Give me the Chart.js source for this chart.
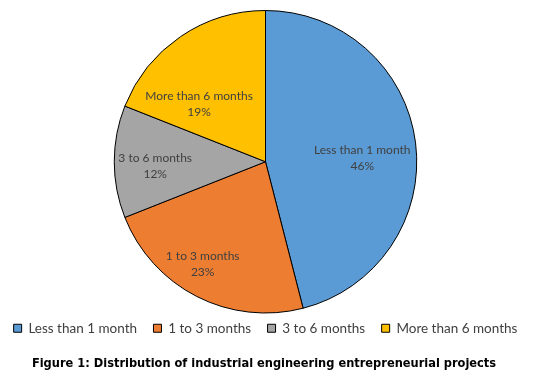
<!DOCTYPE html>
<html><head><meta charset="utf-8">
<script src="https://cdn.jsdelivr.net/npm/chart.js@4/dist/chart.umd.min.js"></script>
<style>
html,body{margin:0;padding:0;background:#fff;}
#wrap{position:relative;width:539px;height:378px;overflow:hidden;}
#c{position:absolute;left:0;top:0;}
#cap{position:absolute;left:0;width:528px;top:355px;line-height:16px;text-align:center;white-space:nowrap;font:bold 12.7px "DejaVu Sans Condensed","DejaVu Sans",sans-serif;color:#000;}
</style></head>
<body><div id="wrap"><canvas id="c" width="539" height="378"></canvas><div id="cap">Figure 1: Distribution of industrial engineering entrepreneurial projects</div></div>
<script>
const categories = ["Less than 1 month", "1 to 3 months", "3 to 6 months", "More than 6 months"];
const shares = [46, 23, 12, 19];
const sliceColors = ["#5B9BD5", "#ED7D31", "#A5A5A5", "#FFC000"];

const labelPlugin = {
  id: 'sliceLabels',
  afterDatasetsDraw(chart, args, opts) {
    const ctx = chart.ctx;
    const meta = chart.getDatasetMeta(0);
    const total = shares.reduce((a, b) => a + b, 0);
    ctx.save();
    ctx.font = opts.font;
    ctx.fillStyle = opts.color;
    ctx.textAlign = 'center';
    ctx.textBaseline = 'middle';
    meta.data.forEach((arc, i) => {
      const mid = (arc.startAngle + arc.endAngle) / 2 + opts.angleShift[i] * Math.PI / 180;
      const rr = arc.outerRadius * opts.radial[i];
      const x = arc.x + Math.cos(mid) * rr;
      const y = arc.y + Math.sin(mid) * rr;
      ctx.fillText(categories[i], x, y - opts.lineGap / 2);
      ctx.fillText(Math.round(shares[i] / total * 100) + '%', x, y + opts.lineGap / 2);
    });
    ctx.restore();
  }
};

new Chart(document.getElementById('c'), {
  type: 'pie',
  data: {
    labels: categories,
    datasets: [{
      data: shares,
      backgroundColor: sliceColors,
      borderColor: '#000000',
      borderWidth: 1
    }]
  },
  options: {
    responsive: false,
    devicePixelRatio: 1,
    animation: false,
    layout: { padding: { top: 10, bottom: 33, left: 0, right: 8 } },
    plugins: {
      tooltip: { enabled: false },
      legend: {
        position: 'bottom',
        align: 'center',
        labels: {
          boxWidth: 8, boxHeight: 8, padding: 8,
          color: '#404040',
          font: { family: 'Lato', size: 13.5 },
          generateLabels(chart) {
            const ds = chart.data.datasets[0];
            const n = chart.data.labels.length;
            return chart.data.labels.map((lab, i) => ({
              text: i < n - 1 ? lab + '\u2002\u2009' : lab,
              fillStyle: ds.backgroundColor[i],
              strokeStyle: '#000000',
              lineWidth: 1,
              fontColor: '#404040',
              hidden: false,
              index: i
            }));
          }
        }
      },
      sliceLabels: {
        font: '12px Lato',
        color: '#404040',
        lineGap: 16,
        radial: [0.64, 0.795, 0.73, 0.58],
        angleShift: [5, 4.5, -2.5, -15]
      }
    }
  },
  plugins: [labelPlugin]
});
</script>
</body></html>
